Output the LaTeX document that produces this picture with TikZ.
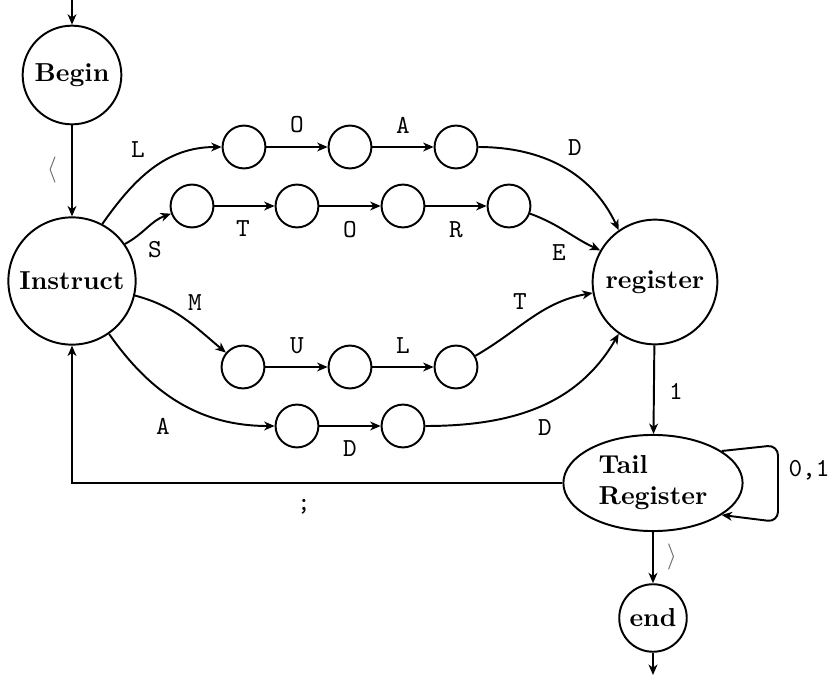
\documentclass[tikz,border=0pt]{standalone}
\usetikzlibrary{arrows.meta,shapes.geometric}
\begin{document}
\begin{tikzpicture}[x=0.385pt,y=-0.385pt,
  every path/.style={line width=0.75pt},
  >={Stealth[length=4pt,width=3.4pt,inset=1.2pt]},
  state/.style={circle,draw,line width=0.75pt,inner sep=0pt,font=\bfseries},
  small/.style={state,minimum size=16.5pt},
  lab/.style={font=\ttfamily}]
\useasboundingbox (0,0) rectangle (837,675);
% main states
\node[state,minimum size=38pt] (begin) at (72,75) {Begin};
\node[state,minimum size=49pt] (instr) at (72,281) {Instruct};
\node[state,minimum size=48pt] (reg) at (655,282) {register};
\node[ellipse,draw,line width=0.75pt,minimum width=69pt,minimum height=37pt,inner sep=0pt,align=left,font=\bfseries] (tail) at (653,483) {Tail\\Register};
\node[state,minimum size=26pt] (end) at (653,618) {end};
% small states
\node[small] (l1) at (244,147) {};
\node[small] (l2) at (350,147) {};
\node[small] (l3) at (456,147) {};
\node[small] (s1) at (192,206) {};
\node[small] (s2) at (297,206) {};
\node[small] (s3) at (403,206) {};
\node[small] (s4) at (509,206) {};
\node[small] (m1) at (243,367) {};
\node[small] (m2) at (350,367) {};
\node[small] (m3) at (456,367) {};
\node[small] (a1) at (297,426) {};
\node[small] (a2) at (403,426) {};
% helper coordinates
\coordinate (in0) at (72,0);
\coordinate (out0) at (653,675);
\coordinate (corner) at (72,483);
\coordinate (lp1) at (778,445);
\coordinate (lp2) at (778,522);
% edges
\draw[->] (in0) -- (begin);
\draw[->] (begin) -- (instr);
\draw[->] (instr.62) to[out=55,in=180] (l1);
\draw[->] (l1) -- (l2);
\draw[->] (l2) -- (l3);
\draw[->] (l3) to[out=0,in=115] (reg.125);
\draw[->] (instr.35) to[out=28,in=200] (s1);
\draw[->] (s1) -- (s2);
\draw[->] (s2) -- (s3);
\draw[->] (s3) -- (s4);
\draw[->] (s4) to[out=-20,in=155] (reg.150);
\draw[->] (instr.-13) to[out=-15,in=140] (m1);
\draw[->] (m1) -- (m2);
\draw[->] (m2) -- (m3);
\draw[->] (m3) to[out=30,in=190] (reg.190);
\draw[->] (instr.-55) to[out=-55,in=180] (a1);
\draw[->] (a1) -- (a2);
\draw[->] (a2) to[out=0,in=-120] (reg.-125);
\draw[->] (reg) -- (tail);
\draw[->] (tail) -- (end);
\draw[->] (end) -- (out0);
\draw[->] (tail.west) -- (corner) -- (instr);
\draw[->,rounded corners=4pt] (tail.25) -- (lp1) -- (lp2) -- (tail.-25);
% labels
\node[text=black!60] (llang) at (52,170) {$\langle$};
\node[lab] (tL) at (138,150) {L};
\node[lab] (tO1) at (297,125) {O};
\node[lab] (tA1) at (403,125) {A};
\node[lab] (tD1) at (575,148) {D};
\node[lab] (tS) at (155,250) {S};
\node[lab] (tT1) at (243,229) {T};
\node[lab] (tO2) at (350,230) {O};
\node[lab] (tR) at (456,230) {R};
\node[lab] (tE) at (559,253) {E};
\node[lab] (tM) at (195,303) {M};
\node[lab] (tU) at (297,346) {U};
\node[lab] (tL2) at (403,346) {L};
\node[lab] (tT2) at (520,302) {T};
\node[lab] (tA2) at (163,426) {A};
\node[lab] (tD2) at (350,449) {D};
\node[lab] (tD3) at (545,428) {D};
\node[lab] (t1) at (676,391) {1};
\node[lab] (tsemi) at (304,507) {;};
\node[lab] (t01) at (809,470) {0,1};
\node[text=black!60] (rang) at (672,557) {$\rangle$};
\end{tikzpicture}
\end{document}
